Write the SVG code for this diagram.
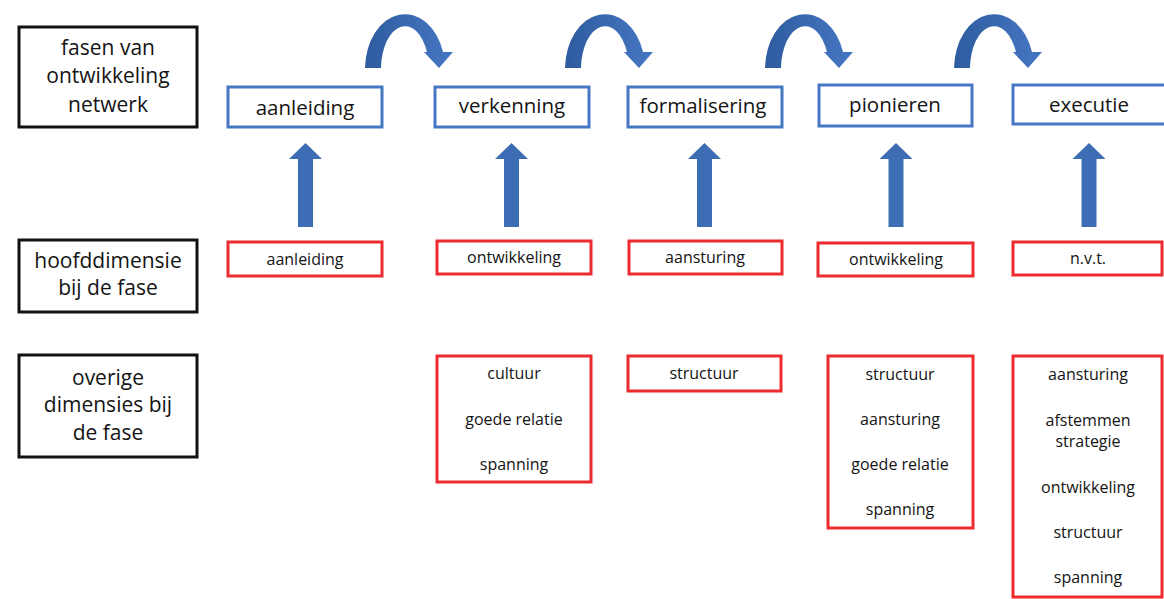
<svg xmlns="http://www.w3.org/2000/svg" width="1164" height="599" viewBox="0 0 1164 599">
<defs>
<style>
.lbl{fill:none;stroke:#111;stroke-width:3}
.ph{fill:#fff;stroke:#4677C3;stroke-width:3}
.dm{fill:#fff;stroke:#EC2B2E;stroke-width:3}
text{font-family:"Open Sans","Liberation Sans",sans-serif;fill:#141414;text-anchor:middle}
.t1{font-size:21px}
.t2{font-size:20.5px}
.t3{font-size:16px}
.up{fill:#3D6DB4}
.cv{fill:url(#cg)}
</style>
<linearGradient id="cg" x1="0" y1="0" x2="1" y2="0">
<stop offset="0" stop-color="#2F5C9F"/>
<stop offset="1" stop-color="#4577C2"/>
</linearGradient>
<path id="curve" d="M365,68 A40,55 0 0 1 443,52 L453,52 L439,68 L424,52 L427,52 A24,43 0 0 0 381,68 Z"/>
<path id="uparrow" d="M-7.5,227 L-7.5,159 L-16.5,159 L0,143 L16.5,159 L7.5,159 L7.5,227 Z"/>
</defs>
<rect width="1164" height="599" fill="#fff"/>

<g id="connectors">
<use href="#curve" class="cv"/>
<use href="#curve" class="cv" transform="translate(200,0)"/>
<use href="#curve" class="cv" transform="translate(400,0)"/>
<use href="#curve" class="cv" transform="translate(589,0)"/>
<use href="#uparrow" class="up" transform="translate(305.5,0)"/>
<use href="#uparrow" class="up" transform="translate(511.5,0)"/>
<use href="#uparrow" class="up" transform="translate(704.5,0)"/>
<use href="#uparrow" class="up" transform="translate(896,0)"/>
<use href="#uparrow" class="up" transform="translate(1089,0)"/>
</g>

<g id="label-fasen">
<rect class="lbl" x="19" y="27" width="178" height="100"/>
<text class="t1" x="108" y="55">fasen van</text>
<text class="t1" x="108" y="83">ontwikkeling</text>
<text class="t1" x="108" y="112">netwerk</text>
</g>
<g id="label-hoofd">
<rect class="lbl" x="19" y="240" width="178" height="72"/>
<text class="t1" x="108" y="268">hoofddimensie</text>
<text class="t1" x="108" y="295">bij de fase</text>
</g>
<g id="label-overige">
<rect class="lbl" x="19" y="355" width="178" height="102"/>
<text class="t1" x="108" y="385">overige</text>
<text class="t1" x="108" y="412">dimensies bij</text>
<text class="t1" x="108" y="440">de fase</text>
</g>

<g id="phase-aanleiding">
<rect class="ph" x="228" y="87" width="154" height="40"/>
<text class="t2" x="305" y="115">aanleiding</text>
</g>
<g id="phase-verkenning">
<rect class="ph" x="435" y="87" width="154" height="40"/>
<text class="t2" x="512" y="113">verkenning</text>
</g>
<g id="phase-formalisering">
<rect class="ph" x="628" y="87" width="154" height="40"/>
<text class="t2" x="703" y="113">formalisering</text>
</g>
<g id="phase-pionieren">
<rect class="ph" x="819" y="85" width="153" height="41"/>
<text class="t2" x="895" y="112">pionieren</text>
</g>
<g id="phase-executie">
<rect class="ph" x="1013" y="85" width="156" height="39"/>
<text class="t2" x="1089" y="112">executie</text>
</g>

<g id="main-aanleiding">
<rect class="dm" x="228" y="242" width="154" height="34"/>
<text class="t3" x="305" y="265">aanleiding</text>
</g>
<g id="main-verkenning">
<rect class="dm" x="437" y="241" width="154" height="33"/>
<text class="t3" x="514" y="263">ontwikkeling</text>
</g>
<g id="main-formalisering">
<rect class="dm" x="629" y="241" width="153" height="33"/>
<text class="t3" x="705" y="263">aansturing</text>
</g>
<g id="main-pionieren">
<rect class="dm" x="818" y="243" width="155" height="33"/>
<text class="t3" x="896" y="265">ontwikkeling</text>
</g>
<g id="main-executie">
<rect class="dm" x="1013" y="242" width="149" height="33"/>
<text class="t3" x="1088" y="264">n.v.t.</text>
</g>

<g id="other-verkenning">
<rect class="dm" x="437" y="356" width="154" height="126"/>
<text class="t3" x="514" y="379">cultuur</text>
<text class="t3" x="514" y="425">goede relatie</text>
<text class="t3" x="514" y="470">spanning</text>
</g>
<g id="other-formalisering">
<rect class="dm" x="628" y="356" width="153" height="35"/>
<text class="t3" x="704" y="379">structuur</text>
</g>
<g id="other-pionieren">
<rect class="dm" x="828" y="356" width="145" height="172"/>
<text class="t3" x="900" y="380">structuur</text>
<text class="t3" x="900" y="425">aansturing</text>
<text class="t3" x="900" y="470">goede relatie</text>
<text class="t3" x="900" y="515">spanning</text>
</g>
<g id="other-executie">
<rect class="dm" x="1013" y="356" width="149" height="241"/>
<text class="t3" x="1088" y="380">aansturing</text>
<text class="t3" x="1088" y="426">afstemmen</text>
<text class="t3" x="1088" y="447">strategie</text>
<text class="t3" x="1088" y="493">ontwikkeling</text>
<text class="t3" x="1088" y="538">structuur</text>
<text class="t3" x="1088" y="583">spanning</text>
</g>
</svg>
